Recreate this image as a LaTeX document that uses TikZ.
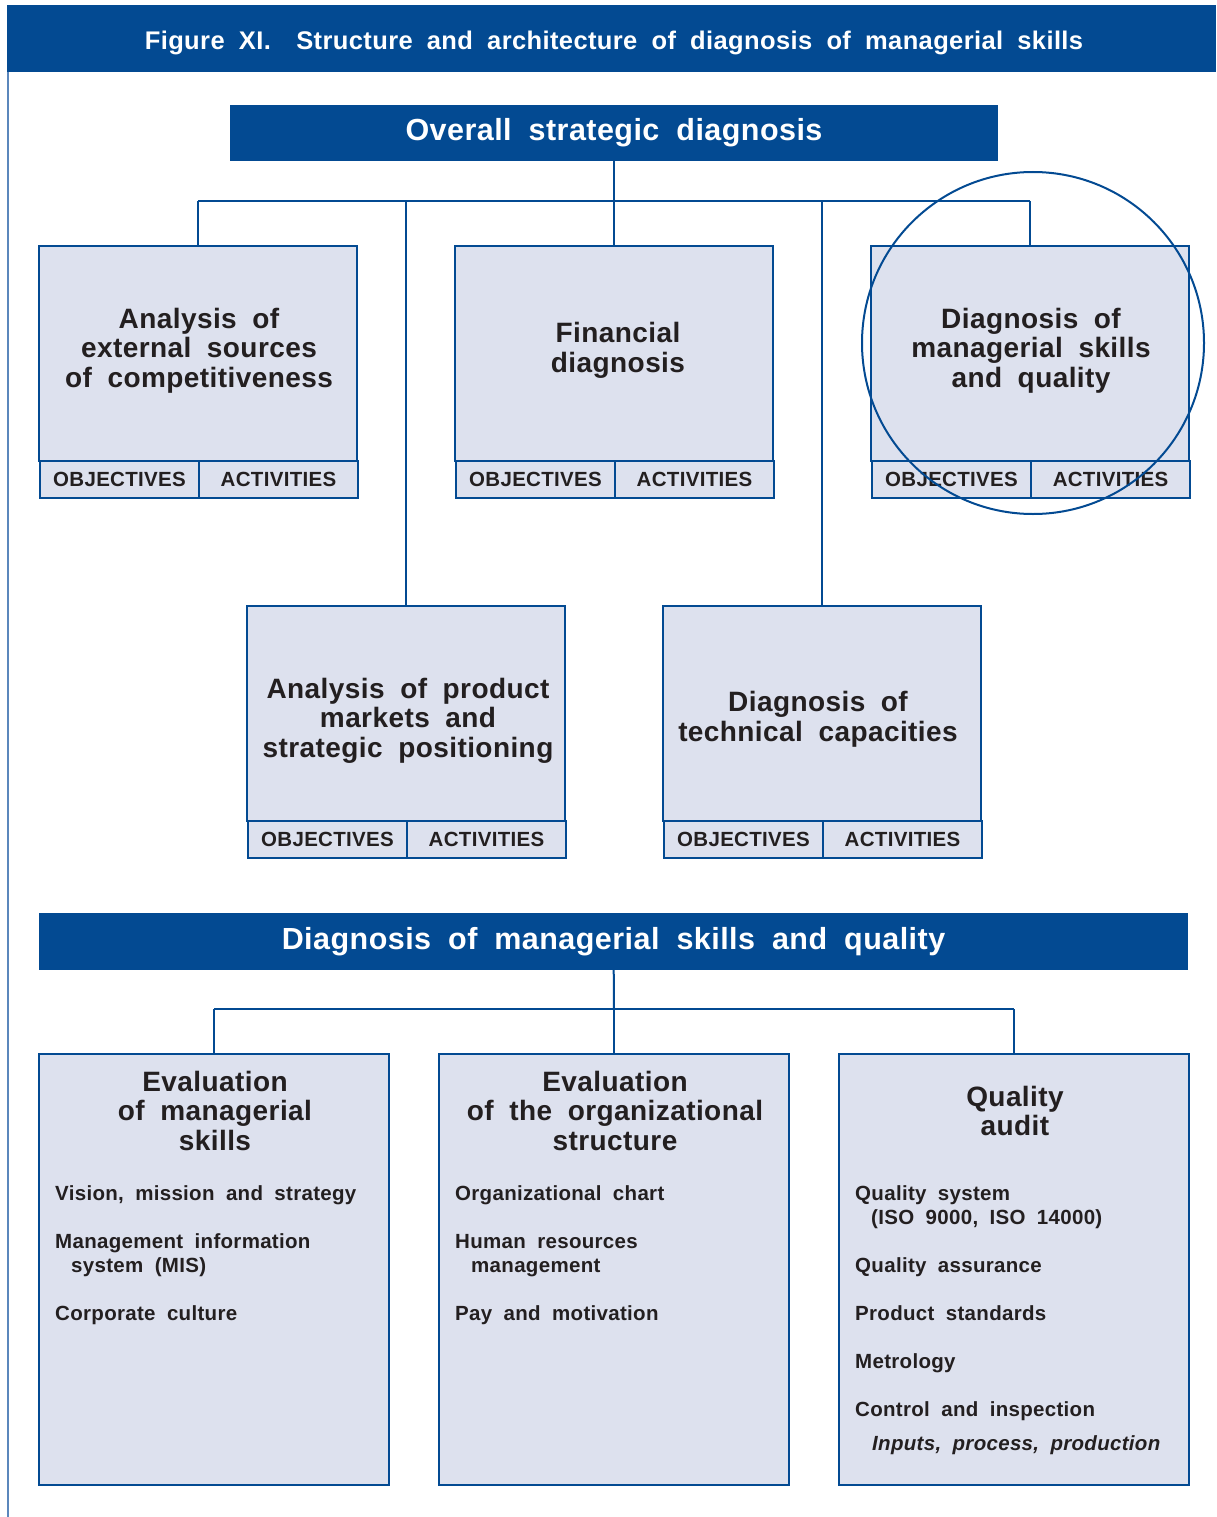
\documentclass[tikz,border=0pt]{standalone}
\usepackage{fontspec}
\setmainfont{Liberation Sans}[LetterSpace=1.5,WordSpace=1.9]
\definecolor{unblue}{HTML}{034A92}
\definecolor{boxfill}{HTML}{DDE1EE}
\definecolor{ink}{HTML}{231F20}
\definecolor{edge}{HTML}{5B87BC}

\begin{document}
\begin{tikzpicture}
  [x=1pt,y=-1pt,every node/.style={inner sep=0pt,text=ink,font=\bfseries}]
  \tikzstyle{box} = [draw=unblue,line width=2pt,fill=boxfill,shape=rectangle]
  \tikzstyle{main} = [box,minimum width=318pt,minimum height=215pt]
  \tikzstyle{half} = [box,minimum width=159pt,minimum height=37pt,font=\fontsize{20.5}{24}\bfseries]
  \tikzstyle{tall} = [box,minimum width=350pt,minimum height=431pt]
  \tikzstyle{bar} = [fill=unblue,text=white,font=\fontsize{30.5}{36}\bfseries]
  \tikzstyle{title} = [align=center,font=\fontsize{28}{29.5}\bfseries]
  \tikzstyle{items} = [align=left,anchor=north west,font=\fontsize{20.5}{24}\bfseries]
  \tikzstyle{link} = [draw=unblue,line width=2pt]
  \useasboundingbox (0,0) rectangle (1216,1517);

  % frame and caption
  \draw[edge,line width=2pt] (8,72) -- (8,1517);
  \node[fill=unblue,minimum width=1209pt,minimum height=67pt,anchor=north west] (fig) at (7,5) {};
  \node[anchor=base,text=white,font=\fontsize{25.5}{30}\bfseries] (cap) at (614,50)
    {Figure XI.\hspace{1em}Structure and architecture of diagnosis of managerial skills};

  % upper part
  \node[bar,minimum width=768pt,minimum height=56pt] (osd) at (614,133) {Overall strategic diagnosis};
  \coordinate (hub) at (614,201);
  \node[main] (b1) at (198,353.5) {};
  \node[main] (b2) at (614,353.5) {};
  \node[main] (b3) at (1030,353.5) {};
  \node[main] (b4) at (406,713.5) {};
  \node[main] (b5) at (822,713.5) {};
  \foreach \b/\x/\y in {1/39/479.5,2/455/479.5,3/871/479.5,4/247/839.5,5/663/839.5} {
    \node[half,anchor=west] (o\b) at (\x,\y) {OBJECTIVES};
    \node[half,anchor=west] (a\b) at (\x+159,\y) {ACTIVITIES};
  }
  \node[title] (t1) at (199,350.5) {Analysis of\\external sources\\of competitiveness};
  \node[title] (t2) at (618,350.5) {Financial\\diagnosis};
  \node[title] (t3) at (1031,350.5) {Diagnosis of\\managerial skills\\and quality};
  \node[title] (t4) at (408,720.5) {Analysis of product\\markets and\\strategic positioning};
  \node[title] (t5) at (818,719.5) {Diagnosis of\\technical capacities};

  \draw[link] (osd) -- (hub);
  \draw[link] (hub -| b1.north) -- (hub -| b3.north);
  \foreach \dest in {b1,b2,b3,b4,b5}
    \draw[link] (hub -| \dest.north) -- (\dest.north);
  \draw[link] (1033,343) circle [radius=171pt];

  % lower part
  \node[bar,minimum width=1149pt,minimum height=57pt] (dms) at (613.5,941.5) {Diagnosis of managerial skills and quality};
  \coordinate (hub2) at (614,1009);
  \node[tall] (c1) at (214,1269.5) {};
  \node[tall] (c2) at (614,1269.5) {};
  \node[tall] (c3) at (1014,1269.5) {};
  \draw[link] (dms) -- (hub2);
  \draw[link] (hub2 -| c1.north) -- (hub2 -| c3.north);
  \foreach \dest in {c1,c2,c3}
    \draw[link] (hub2 -| \dest.north) -- (\dest.north);

  \node[title] (h1) at (215,1110.5) {Evaluation\\of managerial\\skills};
  \node[title] (h2) at (615,1110.5) {Evaluation\\of the organizational\\structure};
  \node[title] (h3) at (1015,1111) {Quality\\audit};
  \node[items] (l1) at (55,1185.5) {Vision, mission and strategy\\[24pt]
    Management information\\\hspace*{16pt}system (MIS)\\[24pt]
    Corporate culture};
  \node[items] (l2) at (455,1185.5) {Organizational chart\\[24pt]
    Human resources\\\hspace*{16pt}management\\[24pt]
    Pay and motivation};
  \node[items] (l3) at (855,1185.5) {Quality system\\\hspace*{16pt}(ISO 9000, ISO 14000)\\[24pt]
    Quality assurance\\[24pt]
    Product standards\\[24pt]
    Metrology\\[24pt]
    Control and inspection\\[10pt]
    \hspace*{17pt}\itshape Inputs, process, production};
\end{tikzpicture}
\end{document}
